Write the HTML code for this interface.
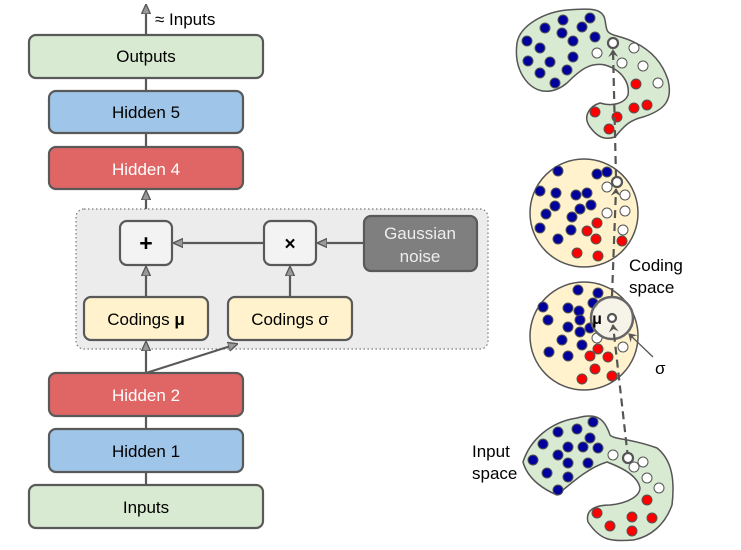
<!DOCTYPE html><html><head><style>body{margin:0;background:#fff}svg{display:block}text{font-family:"Liberation Sans",sans-serif}</style></head><body>
<svg width="741" height="550" viewBox="0 0 741 550" xmlns="http://www.w3.org/2000/svg">
<defs><marker id="a" markerWidth="10" markerHeight="10" refX="9" refY="5" orient="auto" markerUnits="userSpaceOnUse"><path d="M0,0.5 L10,5 L0,9.5 Z" fill="#999" stroke="#555" stroke-width="1.3"/></marker>
<marker id="d" markerWidth="8" markerHeight="10" refX="7" refY="5" orient="auto" markerUnits="userSpaceOnUse"><path d="M0,0 L8,5 L0,10 L3,5 Z" fill="#555"/></marker></defs>
<g stroke="#595959" stroke-width="2.2" fill="none">
<line x1="146" y1="34" x2="146" y2="5" marker-end="url(#a)"/>
<line x1="146" y1="78" x2="146" y2="90"/><line x1="146" y1="133" x2="146" y2="146"/>
<line x1="146" y1="220" x2="146" y2="191" marker-end="url(#a)"/>
<line x1="146" y1="416" x2="146" y2="429"/><line x1="146" y1="472" x2="146" y2="485"/>
</g>
<rect x="76" y="209" width="412" height="140" rx="8" fill="#ececec" stroke="#777" stroke-width="1.2" stroke-dasharray="1.5,2.5"/>
<g stroke="#595959" stroke-width="2.2" fill="none">
<line x1="146" y1="373" x2="146" y2="342" marker-end="url(#a)"/>
<line x1="146" y1="373" x2="237" y2="344" marker-end="url(#a)"/>
<line x1="146" y1="297" x2="146" y2="267" marker-end="url(#a)"/>
<line x1="290" y1="297" x2="290" y2="267" marker-end="url(#a)"/>
<line x1="264" y1="243" x2="174" y2="243" marker-end="url(#a)"/>
<line x1="364" y1="243" x2="318" y2="243" marker-end="url(#a)"/>
</g>
<g stroke="#595959" stroke-width="2.2">
<rect x="29" y="35" width="234" height="43" rx="7" fill="#d9ead3"/>
<rect x="49" y="91" width="194" height="42" rx="7" fill="#9fc5e8"/>
<rect x="49" y="147" width="194" height="42" rx="7" fill="#e06666"/>
<rect x="120" y="221" width="52" height="44" rx="7" fill="#f3f3f3"/>
<rect x="264" y="221" width="52" height="44" rx="7" fill="#f3f3f3"/>
<rect x="364" y="216" width="113" height="55" rx="7" fill="#7f7f7f"/>
<rect x="84" y="297" width="124" height="43" rx="7" fill="#fff2cc"/>
<rect x="228" y="297" width="124" height="43" rx="7" fill="#fff2cc"/>
<rect x="49" y="373" width="194" height="43" rx="7" fill="#e06666"/>
<rect x="49" y="429" width="194" height="43" rx="7" fill="#9fc5e8"/>
<rect x="29" y="485" width="234" height="43" rx="7" fill="#d9ead3"/>
</g>
<g font-size="17" text-anchor="middle" fill="#000">
<text x="155" y="25" text-anchor="start">≈ Inputs</text>
<text x="146" y="62">Outputs</text>
<text x="146" y="118">Hidden 5</text>
<text x="146" y="175" fill="#fff">Hidden 4</text>
<text x="146" y="251" font-size="23" font-weight="bold">+</text>
<text x="290" y="250" font-size="19" font-weight="bold">×</text>
<text x="420" y="239" fill="#eee">Gaussian</text>
<text x="420" y="262" fill="#eee">noise</text>
<text x="146" y="325">Codings <tspan font-weight="bold">μ</tspan></text>
<text x="290" y="325">Codings σ</text>
<text x="146" y="401" fill="#fff">Hidden 2</text>
<text x="146" y="457">Hidden 1</text>
<text x="146" y="513">Inputs</text>
<text x="629" y="271" text-anchor="start">Coding</text>
<text x="629" y="293" text-anchor="start">space</text>
<text x="472" y="457" text-anchor="start">Input</text>
<text x="472" y="479" text-anchor="start">space</text>
<text x="655" y="374" text-anchor="start">σ</text>
</g>
<g stroke="#555" stroke-width="1.5" fill="#d9ead3">
<path d="M517,43 C520,25 545,12 567,10 C590,8 603,8 605,20 C607,30 605,33 617,36 C640,42 660,55 668,80 C673,100 665,110 643,117 C630,120 625,125 615,137 C605,140 598,138 590,127 C582,116 590,106 600,103 C613,107 625,103 628,95 C630,83 622,70 605,65 C590,62 580,70 567,83 C555,93 540,95 528,83 C518,72 515,58 517,43 Z"/>
<path d="M523,462 C530,440 550,422 577,418 C598,412 605,420 610,435 C615,440 630,438 657,448 C672,460 675,480 672,505 C665,525 650,537 633,540 C610,542 600,540 588,522 C585,510 595,505 610,505 C630,503 640,495 640,488 C638,478 628,470 607,462 C590,467 575,480 557,495 C545,490 528,480 523,462 Z"/>
</g>
<circle cx="584" cy="213" r="54" fill="#fff2cc" stroke="#555" stroke-width="1.5"/>
<circle cx="584" cy="336" r="54" fill="#fff2cc" stroke="#555" stroke-width="1.5"/>
<g fill="#00009c" stroke="#555" stroke-width="1">
<circle cx="563" cy="20" r="5"/><circle cx="590" cy="18" r="5"/><circle cx="545" cy="28" r="5"/><circle cx="582" cy="27" r="5"/><circle cx="562" cy="33" r="5"/><circle cx="527" cy="41" r="5"/><circle cx="573" cy="41" r="5"/><circle cx="595" cy="37" r="5"/><circle cx="540" cy="48" r="5"/><circle cx="528" cy="61" r="5"/><circle cx="550" cy="62" r="5"/><circle cx="573" cy="57" r="5"/><circle cx="540" cy="73" r="5"/><circle cx="567" cy="70" r="5"/><circle cx="555" cy="83" r="5"/>
<circle cx="558" cy="171" r="5"/><circle cx="597" cy="174" r="5"/><circle cx="607" cy="172" r="5"/><circle cx="540" cy="191" r="5"/><circle cx="556" cy="193" r="5"/><circle cx="576" cy="195" r="5"/><circle cx="587" cy="193" r="5"/><circle cx="555" cy="206" r="5"/><circle cx="580" cy="209" r="5"/><circle cx="591" cy="205" r="5"/><circle cx="546" cy="214" r="5"/><circle cx="572" cy="217" r="5"/><circle cx="540" cy="228" r="5"/><circle cx="571" cy="230" r="5"/><circle cx="558" cy="239" r="5"/>
<circle cx="578" cy="290" r="5"/><circle cx="598" cy="293" r="5"/><circle cx="543" cy="307" r="5"/><circle cx="568" cy="308" r="5"/><circle cx="579" cy="311" r="5"/><circle cx="593" cy="303" r="5"/><circle cx="580" cy="320" r="5"/><circle cx="548" cy="320" r="5"/><circle cx="568" cy="327" r="5"/><circle cx="580" cy="332" r="5"/><circle cx="590" cy="328" r="5"/><circle cx="562" cy="340" r="5"/><circle cx="582" cy="345" r="5"/><circle cx="549" cy="352" r="5"/><circle cx="568" cy="356" r="5"/>
<circle cx="593" cy="422" r="5"/><circle cx="558" cy="432" r="5"/><circle cx="577" cy="429" r="5"/><circle cx="590" cy="438" r="5"/><circle cx="543" cy="444" r="5"/><circle cx="568" cy="447" r="5"/><circle cx="583" cy="447" r="5"/><circle cx="598" cy="448" r="5"/><circle cx="558" cy="455" r="5"/><circle cx="533" cy="460" r="5"/><circle cx="568" cy="463" r="5"/><circle cx="588" cy="463" r="5"/><circle cx="547" cy="473" r="5"/><circle cx="568" cy="477" r="5"/><circle cx="558" cy="490" r="5"/>
</g>
<g fill="#f00" stroke="#555" stroke-width="1">
<circle cx="636" cy="84" r="5"/><circle cx="595" cy="112" r="5"/><circle cx="617" cy="117" r="5"/><circle cx="634" cy="108" r="5"/><circle cx="647" cy="105" r="5"/><circle cx="609" cy="129" r="5"/>
<circle cx="597" cy="223" r="5"/><circle cx="587" cy="231" r="5"/><circle cx="596" cy="239" r="5"/><circle cx="622" cy="241" r="5"/><circle cx="577" cy="253" r="5"/><circle cx="598" cy="256" r="5"/>
<circle cx="598" cy="349" r="5"/><circle cx="590" cy="356" r="5"/><circle cx="608" cy="357" r="5"/><circle cx="595" cy="369" r="5"/><circle cx="612" cy="376" r="5"/><circle cx="582" cy="379" r="5"/>
<circle cx="647" cy="500" r="5"/><circle cx="597" cy="513" r="5"/><circle cx="632" cy="517" r="5"/><circle cx="652" cy="518" r="5"/><circle cx="610" cy="526" r="5"/><circle cx="632" cy="531" r="5"/>
</g>
<g fill="#fff" stroke="#555" stroke-width="1">
<circle cx="597" cy="53" r="5"/><circle cx="634" cy="48" r="5"/><circle cx="622" cy="63" r="5"/><circle cx="643" cy="66" r="5"/><circle cx="658" cy="83" r="5"/>
<circle cx="607" cy="187" r="5"/><circle cx="625" cy="195" r="5"/><circle cx="607" cy="213" r="5"/><circle cx="625" cy="211" r="5"/><circle cx="623" cy="230" r="5"/>
<circle cx="597" cy="338" r="5"/><circle cx="623" cy="347" r="5"/>
<circle cx="613" cy="455" r="5"/><circle cx="643" cy="462" r="5"/><circle cx="634" cy="467" r="5"/><circle cx="647" cy="478" r="5"/><circle cx="659" cy="488" r="5"/>
</g>
<circle cx="612" cy="318" r="21" fill="#f3f3f3" fill-opacity="0.75" stroke="#666" stroke-width="2.5"/>
<g stroke="#555" stroke-width="2.2" fill="none" stroke-dasharray="8,5">
<line x1="628" y1="458" x2="613" y2="325" marker-end="url(#d)"/>
<line x1="612" y1="296" x2="616" y2="189" marker-end="url(#d)"/>
<line x1="616" y1="177" x2="613" y2="50" marker-end="url(#d)"/>
</g>
<g fill="#fff" stroke="#555" stroke-width="2.2">
<circle cx="613" cy="43" r="5"/><circle cx="617" cy="182" r="5"/><circle cx="612" cy="318" r="4"/><circle cx="628" cy="458" r="5"/>
</g>
<line x1="653" y1="357" x2="629" y2="334" stroke="#555" stroke-width="1.3" marker-end="url(#d)"/>
<text x="597" y="324" font-size="16" font-weight="bold" text-anchor="middle" font-family="Liberation Sans, sans-serif">μ</text>
</svg></body></html>
